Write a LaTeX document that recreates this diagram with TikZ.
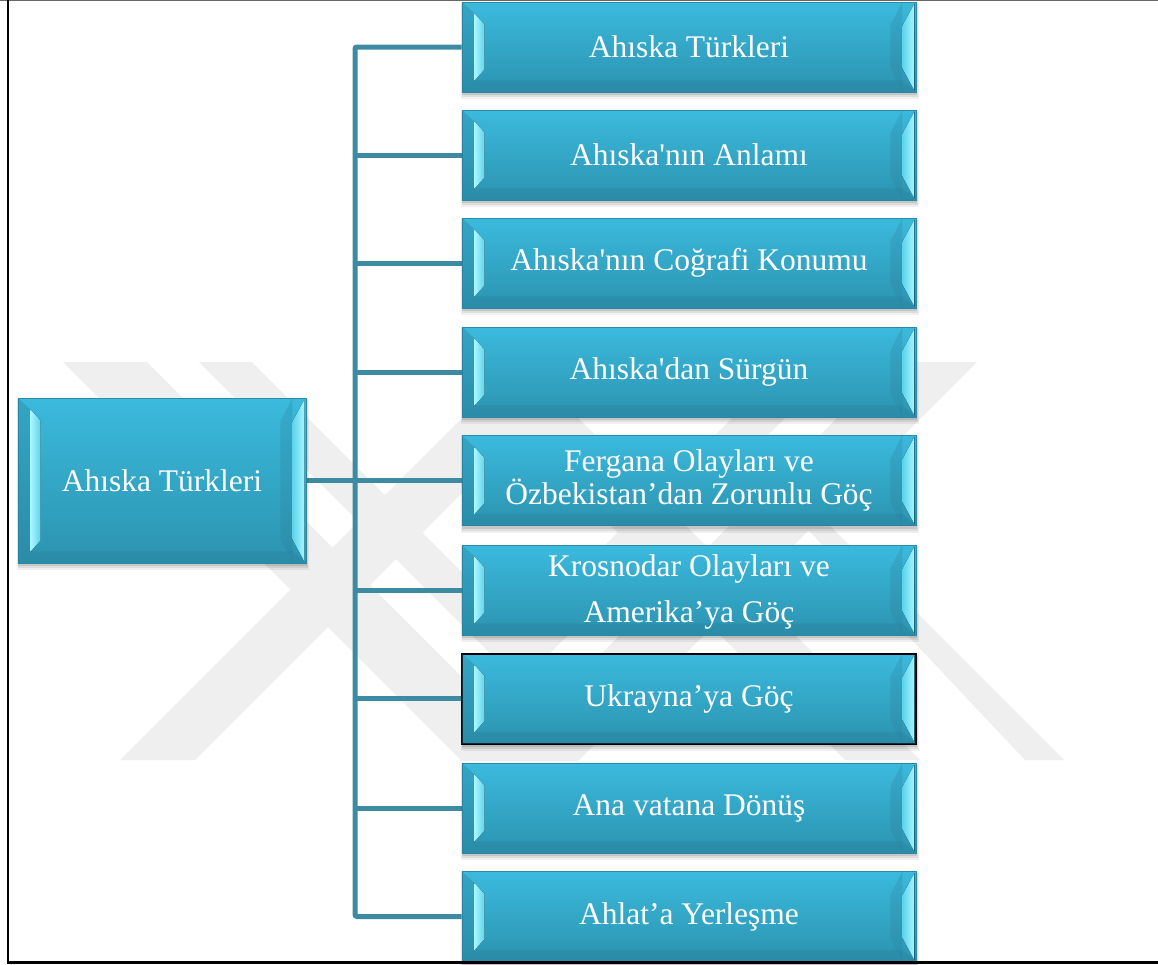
\documentclass[tikz,border=0pt]{standalone}
\usepackage{fontspec}
\setmainfont{Liberation Serif}
\definecolor{boxtop}{HTML}{3BBADD}
\definecolor{boxbot}{HTML}{2C93B0}
\definecolor{boxedge}{HTML}{2B8AA5}
\definecolor{bevlight}{HTML}{A6F6FF}
\definecolor{bevmid}{HTML}{5ED3EA}
\definecolor{bevdark}{HTML}{2A7F98}
\definecolor{linec}{HTML}{3D8BA2}
\definecolor{wm}{HTML}{EFEFEF}
\newcommand{\bevelbox}[1]{%
  \fill[bevdark, opacity=0.35] (#1.north west) -- ([shift={(13,12)}]#1.north west) -- ([shift={(13,-12)}]#1.south west) -- (#1.south west) -- cycle;
  \fill[bevdark, opacity=0.35] (#1.south west) -- ([shift={(13,-12)}]#1.south west) -- ([shift={(-14,-12)}]#1.south east) -- (#1.south east) -- cycle;
  \fill[left color=bevlight, right color=bevmid] ([shift={(13,12)}]#1.north west) -- ([shift={(23,23)}]#1.north west) -- ([shift={(23,-23)}]#1.south west) -- ([shift={(13,-12)}]#1.south west) -- cycle;
  \fill[bevdark, opacity=0.25] ([shift={(-14,0)}]#1.north east) -- ([shift={(-26,24)}]#1.north east) -- ([shift={(-26,-24)}]#1.south east) -- ([shift={(-14,0)}]#1.south east) -- cycle;
  \fill[left color=bevmid, right color=bevlight] ([shift={(-2,2)}]#1.north east) -- ([shift={(-14,24)}]#1.north east) -- ([shift={(-14,-24)}]#1.south east) -- ([shift={(-2,-2)}]#1.south east) -- cycle;
}
\newcommand{\boxshadow}[1]{%
  \fill[black, opacity=0.06] ([shift={(-1,1)}]#1.north west) rectangle ([shift={(3,7)}]#1.south east);
  \fill[black, opacity=0.08] ([shift={(0,2)}]#1.north west) rectangle ([shift={(2,5)}]#1.south east);
  \fill[black, opacity=0.10] ([shift={(0,3)}]#1.north west) rectangle ([shift={(1,3)}]#1.south east);
}
\tikzset{
  conn/.style={draw=linec, line width=5pt},
  boxnode/.style={minimum width=454pt, minimum height=90pt, inner sep=0pt, text=white,
    font=\fontsize{31.5}{32}\selectfont, align=center, top color=boxtop, bottom color=boxbot,
    draw=boxedge, line width=0.8pt},
  rootnode/.style={boxnode, minimum width=288pt, minimum height=165pt},
  wmshape/.style={fill=wm, draw=none},
  label/.style={text=white, font=\fontsize{31.5}{32}\selectfont, align=center},
}
\begin{document}
\begin{tikzpicture}[x=1pt, y=-1pt]
\useasboundingbox (0,0) rectangle (1158,964);
\fill[white] (0,0) rectangle (1158,964);
% watermark
\begin{scope}
\clip (0,362) rectangle (1158,760);
\fill[wmshape] (520,360) -- (120,760) -- (195,760) -- (520,435) -- (845,760) -- (920,760) -- cycle;
\fill[wmshape] (199,362) -- (252,362) -- (520,630) -- (788,362) -- (841,362) -- (520,683) -- cycle;
\fill[wmshape] (63,362) -- (147,362) -- (520,735) -- (893,362) -- (977,362) -- (520,819) -- cycle;
\fill[wmshape] (780,500) -- (821,517) -- (1064,760) -- (1025,760) -- cycle;
\end{scope}
% frame
\draw[black!60, line width=1pt] (0,0.5) -- (1158,0.5);
% nodes
\coordinate (tx) at (355,0);
\node[rootnode] (root) at (162,480.5) {};
\node[boxnode] (b1) at (689,47) {};
\node[boxnode] (b2) at (689,155) {};
\node[boxnode] (b3) at (689,263) {};
\node[boxnode] (b4) at (689,372) {};
\node[boxnode] (b5) at (689,480.5) {};
\node[boxnode] (b6) at (689,590) {};
\node[boxnode] (b7) at (689,698.5) {};
\node[boxnode] (b8) at (689,808) {};
\node[boxnode] (b9) at (689,916.5) {};
% connectors
\draw[conn, rounded corners=2pt] (b1.west) -- (b1.west -| tx) -- (b9.west -| tx) -- (b9.west);
\foreach \n in {b2,b3,b4,b5,b6,b7,b8}{\draw[conn] (\n.west -| tx) -- (\n.west);}
\draw[conn] (root.east) -- (root.east -| b5.west);
% shadows, boxes redrawn over
\foreach \n in {root,b1,b2,b3,b4,b5,b6,b7,b8,b9}{\boxshadow{\n}}
\node[rootnode] at (root) {};
\foreach \n in {b1,b2,b3,b4,b5,b6,b8,b9}{\node[boxnode] at (\n) {};}
\node[boxnode, draw=black, line width=2pt] at (b7) {};
\foreach \n in {root,b1,b2,b3,b4,b5,b6,b7,b8,b9}{\bevelbox{\n}}
\node[label] (t0) at (root) {Ahıska Türkleri};
\node[label] (t1) at (b1) {Ahıska Türkleri};
\node[label] (t2) at (b2) {Ahıska\textquotesingle nın Anlamı};
\node[label] (t3) at (b3) {Ahıska\textquotesingle nın Coğrafi Konumu};
\node[label] (t4) at (b4) {Ahıska\textquotesingle dan Sürgün};
\node[label] (t5) at (b5) {Fergana Olayları ve\\Özbekistan’dan Zorunlu Göç};
\node[label] (t6) at ([yshift=-2pt]b6.center) {Krosnodar Olayları ve\\[14pt]Amerika’ya Göç};
\node[label] (t7) at (b7) {Ukrayna’ya Göç};
\node[label] (t8) at (b8) {Ana vatana Dönüş};
\node[label] (t9) at (b9) {Ahlat’a Yerleşme};
\draw[black, line width=2.5pt] (8,0) -- (8,964);
\draw[black, line width=2.5pt] (8,962.5) -- (1158,962.5);
\end{tikzpicture}
\end{document}
